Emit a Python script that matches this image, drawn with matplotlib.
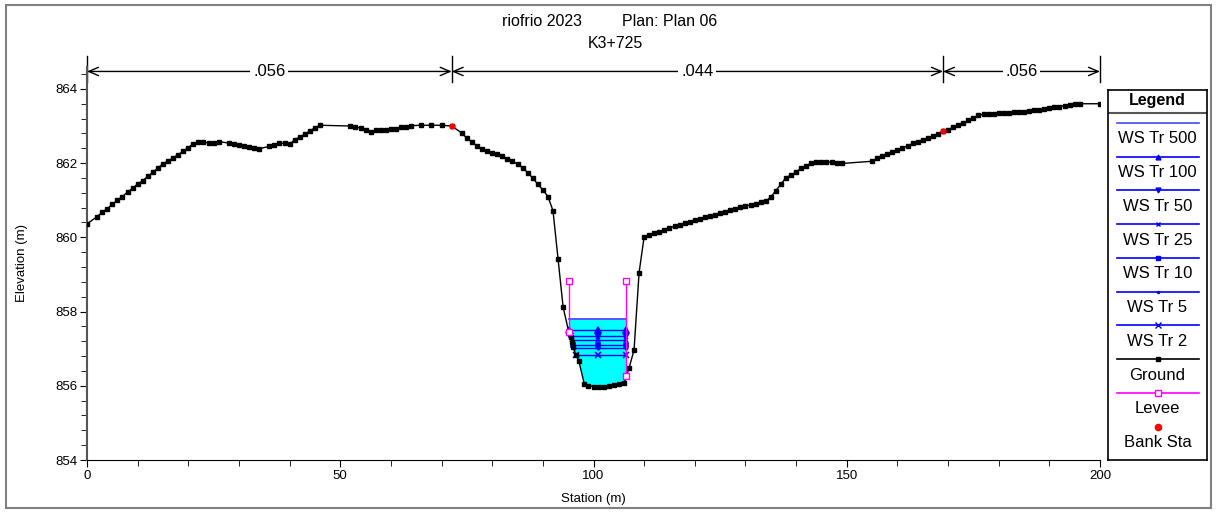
import numpy as np
import matplotlib
matplotlib.use('Agg')
import matplotlib.pyplot as plt
from matplotlib.patches import Rectangle
from matplotlib.ticker import MultipleLocator

plt.rcParams['font.family'] = ['Liberation Sans', 'DejaVu Sans']

# cross section K3+725 - ground survey (station m, elevation m)
station = [0.0, 2.0, 3.0, 4.0, 5.0, 6.0, 7.0, 8.0, 9.0, 10.0, 11.0, 12.0, 13.0,
           14.0, 15.0, 16.0, 17.0, 18.0, 19.0, 20.0, 21.0, 22.0, 23.0, 24.0,
           25.0, 26.0, 28.0, 29.0, 30.0, 31.0, 32.0, 33.0, 34.0, 36.0, 37.0,
           38.0, 39.0, 40.0, 41.0, 42.0, 43.0, 44.0, 45.0, 46.0, 52.0, 53.0,
           54.0, 55.0, 56.0, 57.0, 58.0, 59.0, 60.0, 61.0, 62.0, 63.0, 64.0,
           66.0, 68.0, 70.0, 72.0, 74.0, 75.0, 76.0, 77.0, 78.0, 79.0, 80.0,
           81.0, 82.0, 83.0, 84.0, 85.0, 86.0, 87.0, 88.0, 89.0, 90.0, 91.0,
           92.0, 93.0, 94.0, 95.1, 95.5, 95.8, 96.0, 96.5, 97.1, 98.2, 99.0,
           100.0, 101.0, 102.0, 103.0, 104.0, 105.0, 106.1, 107.0, 108.0,
           109.0, 110.0, 111.0, 112.0, 113.0, 114.0, 115.0, 116.0, 117.0,
           118.0, 119.0, 120.0, 121.0, 122.0, 123.0, 124.0, 125.0, 126.0,
           127.0, 128.0, 129.0, 130.0, 131.0, 132.0, 133.0, 134.0, 135.0,
           136.0, 137.0, 138.0, 139.0, 140.0, 141.0, 142.0, 143.0, 144.0,
           145.0, 146.0, 147.0, 148.0, 149.0, 155.0, 156.0, 157.0, 158.0,
           159.0, 160.0, 161.0, 162.0, 163.0, 164.0, 165.0, 166.0, 167.0,
           168.0, 169.0, 170.0, 171.0, 172.0, 173.0, 174.0, 175.0, 176.0,
           177.0, 178.0, 179.0, 180.0, 181.0, 182.0, 183.0, 184.0, 185.0,
           186.0, 187.0, 188.0, 189.0, 190.0, 191.0, 192.0, 193.0, 194.0,
           195.0, 196.0, 200.0]
elevation = [860.36, 860.56, 860.67, 860.77, 860.89, 861.00, 861.10, 861.22,
             861.32, 861.44, 861.53, 861.64, 861.75, 861.87, 861.98, 862.06,
             862.14, 862.23, 862.32, 862.42, 862.52, 862.57, 862.56, 862.55,
             862.55, 862.58, 862.54, 862.52, 862.50, 862.47, 862.44, 862.41,
             862.39, 862.45, 862.50, 862.54, 862.53, 862.51, 862.63, 862.70,
             862.78, 862.87, 862.95, 863.02, 863.00, 862.98, 862.94, 862.89,
             862.84, 862.88, 862.90, 862.90, 862.91, 862.93, 862.96, 862.98,
             863.01, 863.02, 863.02, 863.02, 863.00, 862.81, 862.67, 862.57,
             862.46, 862.38, 862.32, 862.28, 862.24, 862.18, 862.11, 862.05,
             861.97, 861.88, 861.74, 861.60, 861.43, 861.28, 861.10, 860.72,
             859.41, 858.12, 857.46, 857.31, 857.19, 857.05, 856.83, 856.67,
             856.04, 856.00, 855.98, 855.97, 855.98, 856.00, 856.01, 856.05,
             856.08, 856.47, 856.96, 859.05, 860.02, 860.06, 860.11, 860.15,
             860.20, 860.25, 860.30, 860.33, 860.38, 860.42, 860.47, 860.50,
             860.54, 860.58, 860.61, 860.65, 860.69, 860.73, 860.77, 860.81,
             860.85, 860.87, 860.91, 860.95, 860.98, 861.08, 861.26, 861.43,
             861.61, 861.68, 861.76, 861.86, 861.93, 862.00, 862.04, 862.03,
             862.03, 862.03, 862.01, 861.99, 862.05, 862.13, 862.19, 862.25,
             862.30, 862.36, 862.41, 862.46, 862.53, 862.58, 862.63, 862.68,
             862.73, 862.79, 862.86, 862.90, 862.97, 863.02, 863.08, 863.15,
             863.22, 863.29, 863.32, 863.33, 863.33, 863.34, 863.35, 863.36,
             863.38, 863.39, 863.39, 863.41, 863.43, 863.44, 863.46, 863.48,
             863.50, 863.52, 863.55, 863.57, 863.60, 863.60, 863.60]

bank_sta = [72.0, 169.0]
levee_sta = [95.1, 106.5]
levee_elev = [858.83, 858.83]

ws_names = ['WS Tr 500', 'WS Tr 100', 'WS Tr 50', 'WS Tr 25', 'WS Tr 10',
            'WS Tr 5', 'WS Tr 2']
ws_elev = [857.79, 857.49, 857.34, 857.23, 857.09, 857.02, 856.84]

n_breaks = [0.0, 72.0, 169.0, 200.0]
n_values = ['.056', '.044', '.056']

# plotting styles
ws_colors = ['#4646ff', 'blue', 'blue', 'blue', 'blue', 'blue', 'blue']
ws_markers = ['', '^', 'v', 'x', 's', '.', 'x']
ws_msize = [0, 4, 4, 3.5, 3.5, 3.5, 4.5]

W, H = 1216, 513
fig = plt.figure(figsize=(W / 100, H / 100), dpi=100)
ax = fig.add_axes([87 / W, 1 - 460 / H, (1100 - 87) / W, (460 - 67) / H])

sta = np.array(station)
el = np.array(elevation)

# water between the levees
inside = (sta > levee_sta[0]) & (sta < levee_sta[1])
fx = np.concatenate([[levee_sta[0]], sta[inside], [levee_sta[1]]])
fy = np.interp(fx, sta, el)
ax.fill_between(fx, fy, ws_elev[0], color='#00ffff', lw=0, zorder=1)

# where each water surface meets the channel walls
lw_mask = (sta >= 92) & (sta <= 98.5)
rw_mask = (sta >= 106) & (sta <= 110)
mid = (levee_sta[0] + levee_sta[1]) / 2
for ws, c, m, ms in zip(ws_elev, ws_colors, ws_markers, ws_msize):
    left = max(np.interp(ws, el[lw_mask][::-1], sta[lw_mask][::-1]), levee_sta[0])
    right = min(np.interp(ws, el[rw_mask], sta[rw_mask]), levee_sta[1])
    ax.plot([left, mid, right], [ws] * 3, color=c, lw=1.3 if m == '' else 1.0,
            marker=m if m else None, ms=ms, mew=1.2, zorder=3)

# ground
ax.plot(sta, el, color='black', lw=1, marker='s', ms=3.3, zorder=4)

# levees
for s, top in zip(levee_sta, levee_elev):
    ax.plot([s, s], [top, np.interp(s, sta, el)], color='#ff00ff', lw=1,
            marker='s', ms=5, mfc='white', mew=1, zorder=5)

# bank stations
ax.plot(bank_sta, np.interp(bank_sta, sta, el), 'o', color='red', ms=4.5,
        mew=0, zorder=6)

ax.set_xlim(0, 200)
ax.set_ylim(854, 864.59)

# Manning's n segments above the section
for s in n_breaks:
    ax.plot([s, s], [864.19, 864.88], color='black', lw=1, clip_on=False)
for a, b, n in zip(n_breaks[:-1], n_breaks[1:], n_values):
    ax.annotate('', xy=(a, 864.47), xytext=(b, 864.47),
                arrowprops=dict(arrowstyle='<->,head_length=0.7,head_width=0.3',
                                color='black', lw=1, shrinkA=0, shrinkB=0),
                annotation_clip=False)
    ax.text((a + b) / 2, 864.47, n, ha='center', va='center', fontsize=12,
            bbox=dict(fc='white', ec='none', pad=2), clip_on=False)

for side in ['top', 'right']:
    ax.spines[side].set_visible(False)
ax.spines['left'].set_color('#555555')
ax.spines['left'].set_linewidth(1.5)
ax.xaxis.set_major_locator(MultipleLocator(50))
ax.xaxis.set_minor_locator(MultipleLocator(10))
ax.yaxis.set_major_locator(MultipleLocator(2))
ax.yaxis.set_minor_locator(MultipleLocator(0.4))
ax.tick_params(which='major', direction='out', length=5, labelsize=9.5, pad=2)
ax.tick_params(which='minor', direction='out', length=4)
ax.set_xlabel('Station (m)', fontsize=9.5, va='center')
ax.set_ylabel('Elevation (m)', fontsize=9.5, va='center')
ax.xaxis.set_label_coords(0.5, -(499 - 460) / 393)
ax.yaxis.set_label_coords(-(87 - 22) / 1013, 0.5)

# header
fig.text(582 / W, 1 - 22 / H, 'riofrio 2023', ha='right', va='center', fontsize=11.5)
fig.text(622 / W, 1 - 22 / H, 'Plan: Plan 06', ha='left', va='center', fontsize=11.5)
fig.text(615 / W, 1 - 44 / H, 'K3+725', ha='center', va='center', fontsize=11.5)

# legend box
lax = fig.add_axes([1108 / W, 1 - 460 / H, 99 / W, 370 / H])
lax.set_xlim(1108, 1207)
lax.set_ylim(460, 90)
lax.set_xticks([])
lax.set_yticks([])
for sp in lax.spines.values():
    sp.set_linewidth(1.2)
lax.axhline(112.6, color='#555555', lw=1.5)
lax.text(1157.5, 101, 'Legend', ha='center', va='center', fontsize=11.5,
         fontweight='bold')

leg_names = ws_names + ['Ground', 'Levee', 'Bank Sta']
leg_colors = ws_colors + ['black', '#ff00ff', 'red']
leg_markers = ws_markers + ['s', 's', 'o']
leg_msize = [0, 3.5, 3.5, 3, 3.5, 3, 4, 3.5, 5, 4.5]
step = 33.75
for i, (name, c, m, ms) in enumerate(zip(leg_names, leg_colors, leg_markers, leg_msize)):
    y = 123 + step * i
    if name != 'Bank Sta':
        lax.plot([1117, 1199], [y, y], color=c, lw=1.2)
    if m:
        lax.plot([1158], [y], marker=m, color=c, ms=ms, mew=1,
                 mfc='white' if name == 'Levee' else c, ls='none')
    lax.text(1157.5, y + 16, name, ha='center', va='center', fontsize=12)

# outer frame
fig.patches.append(Rectangle((6 / W, 5 / H), 1205 / W, 503 / H, transform=fig.transFigure,
                             fill=False, ec='#808080', lw=1.5))

fig.savefig('out.png', dpi=100)
